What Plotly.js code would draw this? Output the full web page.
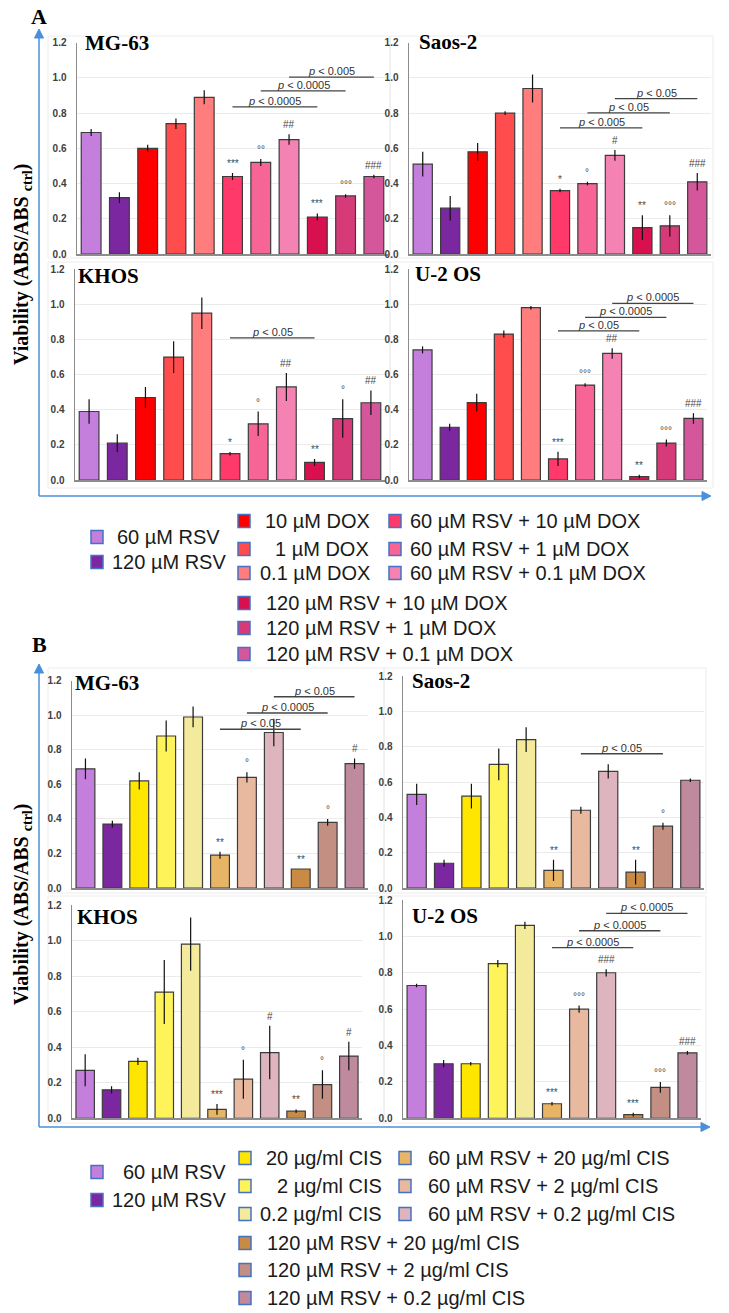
<!DOCTYPE html>
<html><head><meta charset="utf-8">
<script src="https://cdn.plot.ly/plotly-3.0.1.min.js"></script>
<style>html,body{margin:0;padding:0;background:#fff}</style>
</head><body><div id="chart" style="width:729px;height:1313px"></div>
<script>
// ---------- DATA ----------
const categoriesDOX = ['60 µM RSV','120 µM RSV','10 µM DOX','1 µM DOX','0.1 µM DOX',
  '60 µM RSV + 10 µM DOX','60 µM RSV + 1 µM DOX','60 µM RSV + 0.1 µM DOX',
  '120 µM RSV + 10 µM DOX','120 µM RSV + 1 µM DOX','120 µM RSV + 0.1 µM DOX'];
const categoriesCIS = ['60 µM RSV','120 µM RSV','20 µg/ml CIS','2 µg/ml CIS','0.2 µg/ml CIS',
  '60 µM RSV + 20 µg/ml CIS','60 µM RSV + 2 µg/ml CIS','60 µM RSV + 0.2 µg/ml CIS',
  '120 µM RSV + 20 µg/ml CIS','120 µM RSV + 2 µg/ml CIS','120 µM RSV + 0.2 µg/ml CIS'];
const colorsDOX = ['#c47fdc','#7b27a0','#ff0000','#ff4d4d','#ff7d7d','#ff3a6a','#f66596','#f482b2','#d81050','#d63a78','#d3579a'];
const colorsCIS = ['#c47fdc','#7b27a0','#ffe600','#fff35a','#f3ea9b','#e8b566','#e8b99e','#deb4be','#c98a44','#c48f83','#bf8a9e'];
const cellLines = ['MG-63','Saos-2','KHOS','U-2 OS'];
const yTickVals = [0,0.2,0.4,0.6,0.8,1.0,1.2];
const yTickText = ['0.0','0.2','0.4','0.6','0.8','1.0','1.2'];

// Panel A (DOX)
const valuesA_MG63 = [0.69,0.32,0.60,0.74,0.89,0.44,0.52,0.65,0.21,0.33,0.44];
const errorsA_MG63 = [0.02,0.03,0.02,0.03,0.04,0.02,0.02,0.03,0.02,0.01,0.01];
const marksA_MG63  = ['','','','','','***','°°','##','***','°°°','###'];
const bracketsA_MG63 = [[5,8,0.835,'0.0005'],[6,9,0.926,'0.0005'],[7,10,1.005,'0.005']];

const valuesA_Saos2 = [0.51,0.26,0.58,0.80,0.94,0.36,0.40,0.56,0.15,0.16,0.41];
const errorsA_Saos2 = [0.07,0.07,0.05,0.01,0.08,0.01,0.01,0.03,0.07,0.06,0.05];
const marksA_Saos2  = ['','','','','','*','°','#','**','°°°','###'];
const bracketsA_Saos2 = [[5,8,0.716,'0.005'],[6,9,0.801,'0.05'],[7,10,0.882,'0.05']];

const valuesA_KHOS = [0.39,0.21,0.47,0.70,0.95,0.15,0.32,0.53,0.10,0.35,0.44];
const errorsA_KHOS = [0.07,0.05,0.06,0.09,0.09,0.01,0.07,0.08,0.02,0.11,0.07];
const marksA_KHOS  = ['','','','','','*','°','##','**','°','##'];
const bracketsA_KHOS = [[5,8,0.81,'0.05']];

const valuesA_U2OS = [0.74,0.30,0.44,0.83,0.98,0.12,0.54,0.72,0.02,0.21,0.35];
const errorsA_U2OS = [0.02,0.02,0.05,0.02,0.01,0.04,0.01,0.03,0.01,0.02,0.03];
const marksA_U2OS  = ['','','','','','***','°°°','##','**','°°°','###'];
const bracketsA_U2OS = [[5,8,0.848,'0.05'],[6,9,0.925,'0.0005'],[7,10,1.005,'0.0005']];

// Panel B (CIS)
const valuesB_MG63 = [0.69,0.37,0.62,0.88,0.99,0.19,0.64,0.90,0.11,0.38,0.72];
const errorsB_MG63 = [0.06,0.02,0.05,0.09,0.06,0.02,0.03,0.08,0.0,0.02,0.03];
const marksB_MG63  = ['','','','','','**','°','','**','°','#'];
const bracketsB_MG63 = [[5,8,0.919,'0.05'],[6,9,1.013,'0.0005'],[7,10,1.107,'0.05']];

const valuesB_Saos2 = [0.53,0.14,0.52,0.70,0.84,0.10,0.44,0.66,0.09,0.35,0.61];
const errorsB_Saos2 = [0.06,0.02,0.07,0.09,0.07,0.06,0.02,0.04,0.07,0.02,0.01];
const marksB_Saos2  = ['','','','','','**','','','**','°',''];
const bracketsB_Saos2 = [[6,9,0.76,'0.05']];

const valuesB_KHOS = [0.27,0.16,0.32,0.71,0.98,0.05,0.22,0.37,0.04,0.19,0.35];
const errorsB_KHOS = [0.09,0.02,0.02,0.18,0.15,0.03,0.11,0.15,0.01,0.08,0.08];
const marksB_KHOS  = ['','','','','','***','°','#','**','°','#'];
const bracketsB_KHOS = [];

const valuesB_U2OS = [0.73,0.30,0.30,0.85,1.06,0.08,0.60,0.80,0.02,0.17,0.36];
const errorsB_U2OS = [0.01,0.02,0.01,0.02,0.02,0.01,0.02,0.02,0.01,0.03,0.01];
const marksB_U2OS  = ['','','','','','***','°°°','###','***','°°°','###'];
const bracketsB_U2OS = [[5,8,0.938,'0.0005'],[6,9,1.031,'0.0005'],[7,10,1.127,'0.0005']];

// ---------- LAYOUT HELPERS ----------
const W = 729, H = 1313;
const fx = p => p / W;
const fy = p => 1 - p / H;

const subplots = [
  {name:cellLines[0], cats:categoriesDOX, colors:colorsDOX, vals:valuesA_MG63, errs:errorsA_MG63, marks:marksA_MG63, br:bracketsA_MG63, d:[77,388,42.7,254], t:[83,43]},
  {name:cellLines[1], cats:categoriesDOX, colors:colorsDOX, vals:valuesA_Saos2, errs:errorsA_Saos2, marks:marksA_Saos2, br:bracketsA_Saos2, d:[409,711,42.7,254], t:[417,42]},
  {name:cellLines[2], cats:categoriesDOX, colors:colorsDOX, vals:valuesA_KHOS, errs:errorsA_KHOS, marks:marksA_KHOS, br:bracketsA_KHOS, d:[75,385,269.3,480], t:[76,276]},
  {name:cellLines[3], cats:categoriesDOX, colors:colorsDOX, vals:valuesA_U2OS, errs:errorsA_U2OS, marks:marksA_U2OS, br:bracketsA_U2OS, d:[409,707,269,480], t:[413,274]},
  {name:cellLines[0], cats:categoriesCIS, colors:colorsCIS, vals:valuesB_MG63, errs:errorsB_MG63, marks:marksB_MG63, br:bracketsB_MG63, d:[72,368,680.7,888], t:[73,683]},
  {name:cellLines[1], cats:categoriesCIS, colors:colorsCIS, vals:valuesB_Saos2, errs:errorsB_Saos2, marks:marksB_Saos2, br:bracketsB_Saos2, d:[403,704,676,888], t:[410,681]},
  {name:cellLines[2], cats:categoriesCIS, colors:colorsCIS, vals:valuesB_KHOS, errs:errorsB_KHOS, marks:marksB_KHOS, br:bracketsB_KHOS, d:[72,362,905,1118.3], t:[75,917]},
  {name:cellLines[3], cats:categoriesCIS, colors:colorsCIS, vals:valuesB_U2OS, errs:errorsB_U2OS, marks:marksB_U2OS, br:bracketsB_U2OS, d:[403,701,900,1118.3], t:[410,916]}
];

const serif = 'Liberation Serif, Times New Roman, serif';
const sans = 'Liberation Sans, Arial, sans-serif';
const arrowColor = '#4a8fdc';

const traces = [];
const layout = {
  width: W, height: H, margin:{l:0,r:0,t:0,b:0},
  paper_bgcolor:'#fff', plot_bgcolor:'#fff',
  showlegend:false, bargap:0.3,
  annotations:[], shapes:[]
};

// faint panel boxes
[[48,390,36,258],[390,713,36,258],[48,390,262,488],[390,713,262,488],
 [48,384,668,893],[384,706,668,893],[48,384,896,1123],[384,706,896,1123]].forEach(b=>{
  layout.shapes.push({type:'rect',xref:'paper',yref:'paper',x0:fx(b[0]),x1:fx(b[1]),y0:fy(b[3]),y1:fy(b[2]),
    line:{color:'#ececec',width:1},fillcolor:'rgba(0,0,0,0)',layer:'below'});
});

subplots.forEach((sp,i)=>{
  const s = i===0 ? '' : String(i+1);
  const xa = 'xaxis'+s, ya = 'yaxis'+s;
  traces.push({
    type:'bar', x:sp.cats, y:sp.vals, xaxis:'x'+s, yaxis:'y'+s,
    marker:{color:sp.colors, line:{color:'#3c3c3c',width:1.2}},
    error_y:{type:'data', array:sp.errs, visible:true, color:'#111', thickness:1.2, width:0},
    hoverinfo:'x+y'
  });
  layout[xa] = {domain:[fx(sp.d[0]),fx(sp.d[1])], anchor:'y'+s, type:'category',
    range:[-0.5,10.5], showticklabels:false, ticks:'', showgrid:false, zeroline:false,
    showline:true, linecolor:'#8c8c8c', linewidth:1.5, fixedrange:true};
  layout[ya] = {domain:[fy(sp.d[3]),fy(sp.d[2])], anchor:'x'+s, range:[0,1.2],
    tickvals:yTickVals, ticktext:yTickText, ticks:'', ticklabelstandoff:7,
    tickfont:{family:sans,size:10,color:'#404040',weight:'bold'},
    showgrid:true, gridcolor:'#ebebeb', gridwidth:1, zeroline:false,
    showline:true, linecolor:'#8c8c8c', linewidth:1.5, fixedrange:true};
  // panel title
  layout.annotations.push({xref:'paper',yref:'paper',x:fx(sp.t[0]),y:fy(sp.t[1]),xanchor:'left',yanchor:'middle',
    text:'<b>'+sp.name+'</b>',showarrow:false,font:{family:serif,size:21,color:'#000'}});
  // significance marks
  sp.marks.forEach((m,j)=>{
    if(!m) return;
    layout.annotations.push({xref:'x'+s,yref:'y'+s,x:j,y:sp.vals[j]+sp.errs[j],text:m,showarrow:false,
      yanchor:'bottom',yshift:2,font:{family:sans,size:10,color:'#4a4a4a'}});
  });
  // brackets
  sp.br.forEach(b=>{
    layout.shapes.push({type:'line',xref:'x'+s,yref:'y'+s,x0:b[0],x1:b[1],y0:b[2],y1:b[2],
      line:{color:'#444',width:1.3}});
    layout.annotations.push({xref:'x'+s,yref:'y'+s,x:(b[0]+b[1])/2,y:b[2],text:'<i>p</i> &lt; '+b[3],
      showarrow:false,yanchor:'bottom',yshift:-2,font:{family:sans,size:11,color:'#333'}});
  });
});

// panel letters and y titles
[['A',39,17],['B',39,645]].forEach(l=>{
  layout.annotations.push({xref:'paper',yref:'paper',x:fx(l[1]),y:fy(l[2]),text:'<b>'+l[0]+'</b>',showarrow:false,
    xanchor:'center',yanchor:'middle',font:{family:serif,size:22,color:'#000'}});
});
[265,905].forEach(cy=>{
  layout.annotations.push({xref:'paper',yref:'paper',x:fx(22),y:fy(cy),text:'<b>Viability (ABS/ABS <sub>ctrl</sub>)</b>',
    showarrow:false,textangle:-90,xanchor:'center',yanchor:'middle',font:{family:serif,size:20,color:'#000'}});
});

// axis arrows
function addArrows(yBottom, yTopTip, xRightTip){
  const x = 39;
  layout.shapes.push({type:'line',xref:'paper',yref:'paper',x0:fx(x),x1:fx(x),y0:fy(yBottom),y1:fy(yTopTip+7),line:{color:arrowColor,width:1.5}});
  layout.shapes.push({type:'line',xref:'paper',yref:'paper',x0:fx(x),x1:fx(xRightTip-8),y0:fy(yBottom),y1:fy(yBottom),line:{color:arrowColor,width:1.5}});
  layout.shapes.push({type:'path',xref:'paper',yref:'paper',fillcolor:arrowColor,line:{color:arrowColor,width:1},
    path:`M ${fx(x-4.5)},${fy(yTopTip+9)} L ${fx(x)},${fy(yTopTip)} L ${fx(x+4.5)},${fy(yTopTip+9)} Z`});
  layout.shapes.push({type:'path',xref:'paper',yref:'paper',fillcolor:arrowColor,line:{color:arrowColor,width:1},
    path:`M ${fx(xRightTip-9)},${fy(yBottom-4.5)} L ${fx(xRightTip)},${fy(yBottom)} L ${fx(xRightTip-9)},${fy(yBottom+4.5)} Z`});
}
addArrows(496, 29, 711);
addArrows(1127, 664, 710);

// legends (custom)
const legPosA = [[97,115,537],[97,109.5,562],[244,263,521],[244,273,549],[244,257.5,573],
  [395,408,521],[395,408,549],[395,408,573],[244,263.6,603],[244,263.6,628],[244,263.6,654]];
const legPosB = [[97,120.6,1172],[97,110.4,1200],[245,263.6,1158],[245,274.7,1186],[245,257.5,1214],
  [405,426,1158],[405,426,1186],[405,426,1214],[245,265.4,1243],[245,265.4,1270],[245,265.4,1298]];
function addLegend(cats, colors, pos){
  cats.forEach((c,k)=>{
    const p = pos[k];
    layout.shapes.push({type:'rect',xref:'paper',yref:'paper',x0:fx(p[0]-6),x1:fx(p[0]+6),y0:fy(p[2]+6.5),y1:fy(p[2]-6.5),
      fillcolor:colors[k],line:{color:'#4472c4',width:1.5}});
    layout.annotations.push({xref:'paper',yref:'paper',x:fx(p[1]),y:fy(p[2]),xanchor:'left',yanchor:'middle',
      text:c,showarrow:false,font:{family:sans,size:20,color:'#1a1a1a'}});
  });
}
addLegend(categoriesDOX, colorsDOX, legPosA);
addLegend(categoriesCIS, colorsCIS, legPosB);

Plotly.newPlot('chart', traces, layout, {staticPlot:true, displayModeBar:false});
</script>
</body></html>
